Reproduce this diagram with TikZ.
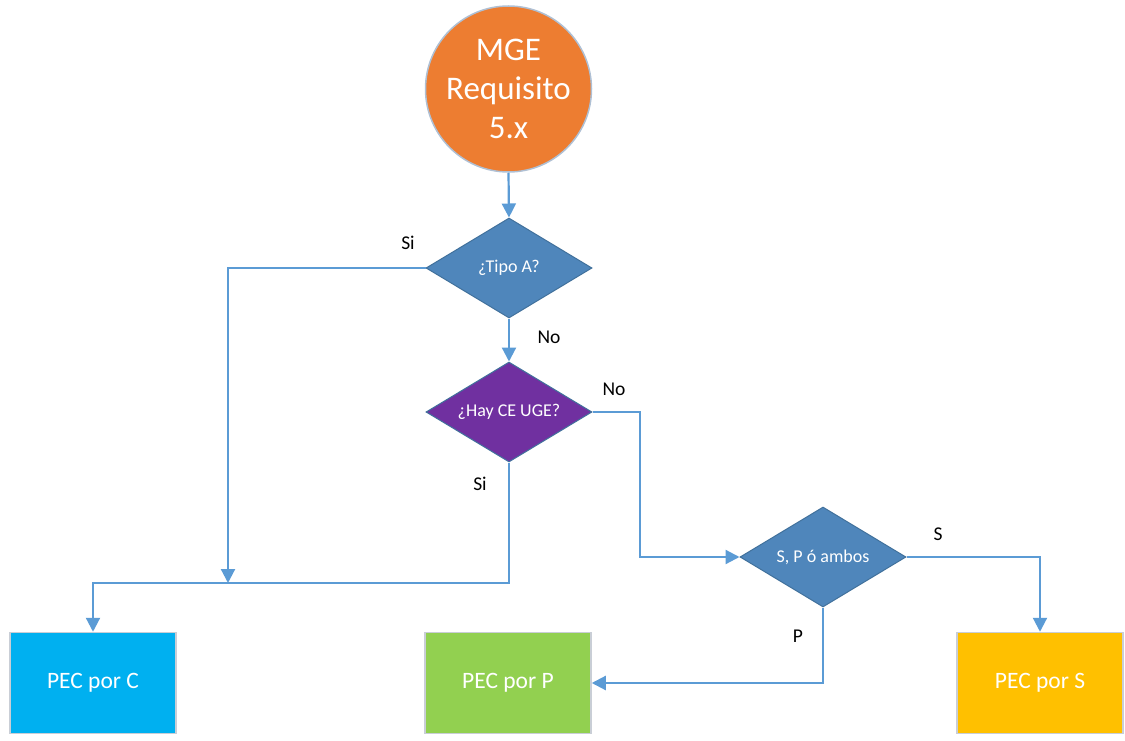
\documentclass[tikz,border=0pt]{standalone}
\usepackage{fontspec}
\setmainfont{Carlito}
\usetikzlibrary{shapes.geometric,arrows.meta}
\definecolor{lineblue}{HTML}{5B9BD5}
\definecolor{orangec}{HTML}{ED7D31}
\definecolor{diablue}{HTML}{4F86BB}
\definecolor{diaborder}{HTML}{41719C}
\definecolor{purplec}{HTML}{7030A0}
\definecolor{cyanc}{HTML}{00B0F0}
\definecolor{greenc}{HTML}{92D050}
\definecolor{goldc}{HTML}{FFC000}
\definecolor{boxborder}{HTML}{C9CED6}
\definecolor{circborder}{HTML}{AFC0D4}
\tikzset{
  conn/.style={draw=lineblue, line width=2.2pt, -{Triangle[length=14pt,width=14pt]}},
  decision/.style={shape=diamond, aspect=1.66, minimum width=166pt, minimum height=100pt, inner sep=0pt, draw=diaborder, line width=1pt, text=white, font=\fontsize{18}{21}\selectfont},
  pecbox/.style={rectangle, minimum width=166pt, minimum height=101pt, draw=boxborder, line width=1.5pt, text=white, font=\fontsize{23.5}{27}\selectfont},
  lbl/.style={text=black, font=\fontsize{19.5}{22}\selectfont, inner sep=0pt}
}
\begin{document}
\begin{tikzpicture}[x=1pt,y=-1pt]
\useasboundingbox (0,0) rectangle (1125,741);
\node[circle, fill=orangec, draw=circborder, line width=1.5pt, minimum size=166pt, inner sep=0pt, text=white, align=center, font=\fontsize{33}{39}\selectfont] (start) at (508.5,89) {MGE\\Requisito\\5.x};
\node[decision, fill=diablue] (d1) at (509,268) {¿Tipo A?};
\node[decision, fill=purplec] (d2) at (509,412) {¿Hay CE UGE?};
\node[decision, fill=diablue] (d3) at (823,557) {S, P ó ambos};
\node[pecbox, fill=cyanc] (pc) at (93,683) {PEC por C};
\node[pecbox, fill=greenc] (pp) at (508,683) {PEC por P};
\node[pecbox, fill=goldc] (ps) at (1040,683) {PEC por S};
\coordinate (j1) at (228,583);
\coordinate (j2) at (509,583);
\coordinate (c1) at (640,412);
\draw[conn] (start.south) -- (d1.north);
\draw[conn] (d1.west) -| (j1);
\draw[conn] (d1.south) -- (d2.north);
\draw[conn] (d2.south) -- (j2) -| (pc.north);
\draw[conn] (d2.east) -- (c1) |- (d3.west);
\draw[conn] (d3.east) -| (ps.north);
\draw[conn] (d3.south) |- (pp.east);
\node[lbl] (l1) at (408,243) {Si};
\node[lbl] (l2) at (549,337) {No};
\node[lbl] (l3) at (614,389) {No};
\node[lbl] (l4) at (480,484) {Si};
\node[lbl] (l5) at (938,534) {S};
\node[lbl] (l6) at (798,636) {P};
\end{tikzpicture}
\end{document}
